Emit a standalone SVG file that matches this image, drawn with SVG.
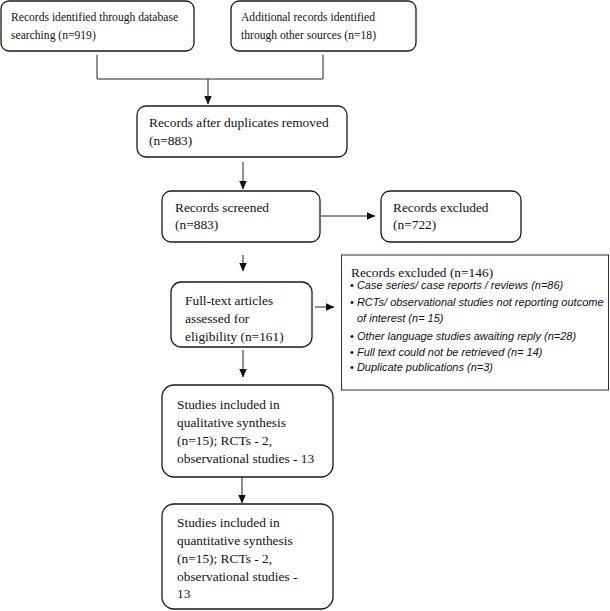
<svg xmlns="http://www.w3.org/2000/svg" width="610" height="611" viewBox="0 0 610 611">
<defs>
<marker id="ah" markerWidth="9" markerHeight="8" refX="8.5" refY="4" orient="auto" markerUnits="userSpaceOnUse">
<path d="M0,0 L9,4 L0,8 Z" fill="#111"/>
</marker>
<style>
.box{fill:#fff;stroke:#1a1a1a;stroke-width:1.3}
.t{font-family:"Liberation Serif","Times New Roman",serif;font-size:13.4px;fill:#111}
.ts{font-family:"Liberation Serif","Times New Roman",serif;font-size:11.6px;fill:#111}
.it{font-family:"Liberation Sans",Arial,sans-serif;font-size:11px;font-style:italic;fill:#111}
.c{fill:none;stroke:#222;stroke-width:1}
</style>
</defs>
<rect width="610" height="611" fill="#fff"/>
<g id="connectors">
<path class="c" d="M97,55 V79 H323 V55"/>
<path class="c" d="M208,79 V104" marker-end="url(#ah)"/>
<path class="c" d="M243,162 V189" marker-end="url(#ah)"/>
<path class="c" d="M321,216 H375" marker-end="url(#ah)"/>
<path class="c" d="M243,255 V271" marker-end="url(#ah)"/>
<path class="c" d="M315,307 H334" marker-end="url(#ah)"/>
<path class="c" d="M243,350 V377" marker-end="url(#ah)"/>
<path class="c" d="M242,477 V503" marker-end="url(#ah)"/>
</g>
<g id="n1">
<rect class="box" x="1" y="1" width="193" height="50" rx="8"/>
<text class="ts" x="11" y="21">Records identified through database</text>
<text class="ts" x="11" y="39">searching (n=919)</text>
</g>
<g id="n2">
<rect class="box" x="231" y="1" width="185" height="50" rx="8"/>
<text class="ts" x="241" y="21">Additional records identified</text>
<text class="ts" x="241" y="39">through other sources (n=18)</text>
</g>
<g id="n3">
<rect class="box" x="137" y="106" width="210" height="51" rx="9"/>
<text class="t" x="149" y="127">Records after duplicates removed</text>
<text class="t" x="149" y="145">(n=883)</text>
</g>
<g id="n4">
<rect class="box" x="162" y="191" width="158" height="51" rx="9"/>
<text class="t" x="175" y="212">Records screened</text>
<text class="t" x="175" y="229">(n=883)</text>
</g>
<g id="n5">
<rect class="box" x="381" y="191" width="140" height="51" rx="9"/>
<text class="t" x="393" y="212">Records excluded</text>
<text class="t" x="393" y="229">(n=722)</text>
</g>
<g id="n6">
<rect class="box" x="171" y="282" width="141" height="65" rx="10"/>
<text class="t" x="185" y="305">Full-text articles</text>
<text class="t" x="185" y="323">assessed for</text>
<text class="t" x="185" y="341">eligibility (n=161)</text>
</g>
<g id="n7">
<rect x="341.5" y="255" width="267" height="135" fill="#fff" stroke="#333" stroke-width="1"/>
<text class="t" x="351" y="277">Records excluded (n=146)</text>
<text class="it" x="350" y="289"><tspan font-style="normal">•</tspan> Case series/ case reports / reviews (n=86)</text>
<text class="it" x="350" y="306"><tspan font-style="normal">•</tspan> RCTs/ observational studies not reporting outcome</text>
<text class="it" x="357" y="322">of interest (n= 15)</text>
<text class="it" x="350" y="340"><tspan font-style="normal">•</tspan> Other language studies awaiting reply  (n=28)</text>
<text class="it" x="350" y="356"><tspan font-style="normal">•</tspan> Full text could not be retrieved (n= 14)</text>
<text class="it" x="350" y="371"><tspan font-style="normal">•</tspan> Duplicate publications (n=3)</text>
</g>
<g id="n8">
<rect class="box" x="162" y="385" width="171" height="92" rx="12"/>
<text class="t" x="177" y="409">Studies included in</text>
<text class="t" x="177" y="427">qualitative synthesis</text>
<text class="t" x="177" y="445">(n=15); RCTs - 2,</text>
<text class="t" x="177" y="463">observational studies - 13</text>
</g>
<g id="n9">
<rect class="box" x="162" y="504" width="171" height="105" rx="12"/>
<text class="t" x="177" y="527">Studies included in</text>
<text class="t" x="177" y="545">quantitative synthesis</text>
<text class="t" x="177" y="563">(n=15); RCTs - 2,</text>
<text class="t" x="177" y="581">observational studies -</text>
<text class="t" x="177" y="598">13</text>
</g>
</svg>
